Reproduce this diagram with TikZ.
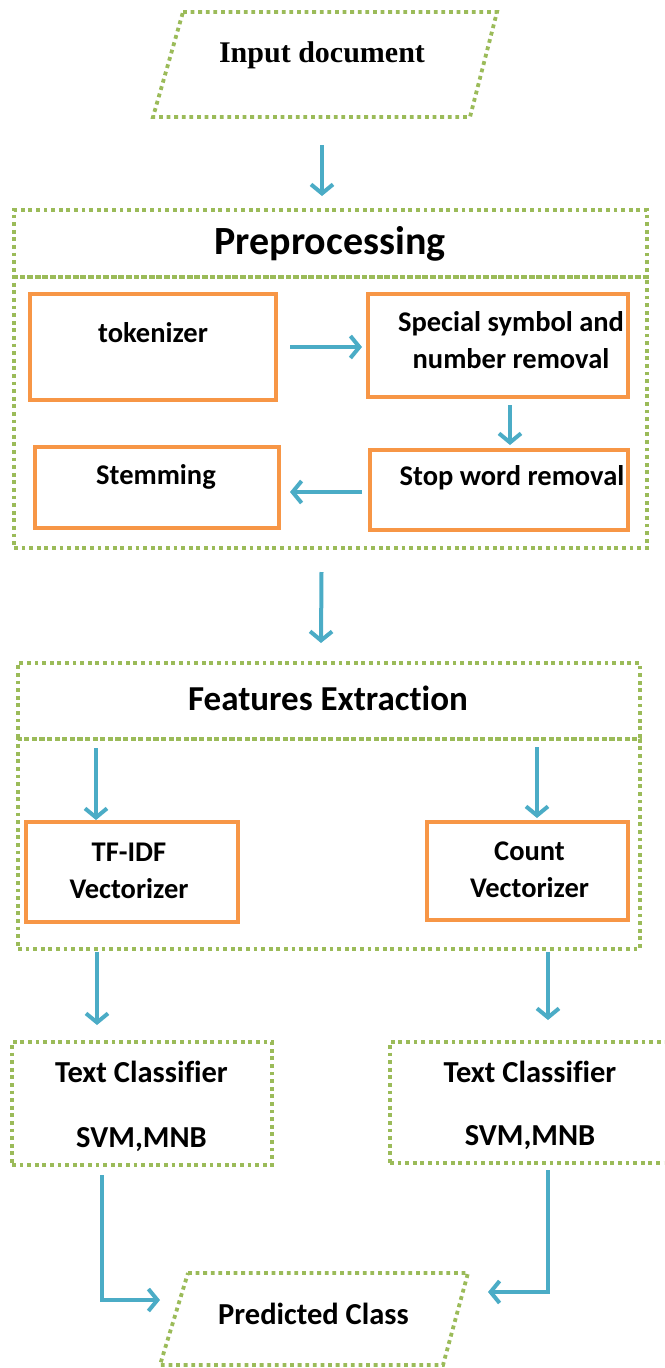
\documentclass[tikz,border=0pt]{standalone}
\usepackage{fontspec}
\setmainfont{Carlito}[Ligatures=NoCommon]
\newfontfamily\titleserif{Liberation Serif}
\usetikzlibrary{arrows.meta,calc}

\definecolor{dotgreen}{HTML}{9BBB59}
\definecolor{boxorange}{HTML}{F79646}
\definecolor{flowblue}{HTML}{4BACC6}

\begin{document}
\begin{tikzpicture}[x=1pt,y=-1pt,
  dotline/.style={draw=dotgreen, line width=3.8pt, dash pattern=on 3.8pt off 3.8pt},
  dotbox/.style={dotline, rectangle, inner sep=0pt, outer sep=0pt},
  obox/.style={draw=boxorange, line width=4.2pt, rectangle, inner sep=0pt, outer sep=0pt},
  lbl/.style={font=\fontsize{28.5}{37}\selectfont\bfseries, align=center, inner sep=0pt},
  big/.style={font=\fontsize{30.5}{37}\selectfont\bfseries, align=center, inner sep=0pt},
  head/.style={font=\fontsize{#1}{#1}\selectfont\bfseries, inner sep=0pt},
  arr/.style={draw=flowblue, line width=4pt, -{Straight Barb[length=9pt,width=22pt]}},
]
\clip (0,0) rectangle (664,1368);

% input document
\coordinate (inA) at (183,12);
\coordinate (inB) at (497,12);
\coordinate (inC) at (470,117);
\coordinate (inD) at (153,117);
\draw[dotline] (inA) -- (inB) -- (inC) -- (inD) -- cycle;
\node[font=\titleserif\fontsize{30}{30}\selectfont\bfseries, inner sep=0pt] (inTxt) at (322,55) {Input document};

% preprocessing block
\node[dotbox, minimum width=633pt, minimum height=67pt] (preHead) at (330.5,243.5) {};
\node[dotbox, minimum width=633pt, minimum height=271pt] (preBody) at (330.5,412.5) {};
\node[head=40] (preTitle) at (330,244) {Preprocessing};

\node[obox, minimum width=246pt, minimum height=106pt] (tok) at (153,347) {};
\node[lbl] (tokT) at (153,333) {tokenizer};
\node[obox, minimum width=260pt, minimum height=103pt] (spec) at (498,345.5) {};
\node[lbl] (specT) at (511,340) {Special symbol and\\number removal};
\node[obox, minimum width=258pt, minimum height=80pt] (stop) at (499,490) {};
\node[lbl] (stopT) at (512,478) {Stop word removal};
\node[obox, minimum width=244pt, minimum height=81pt] (stem) at (157,487.5) {};
\node[lbl] (stemT) at (156,477) {Stemming};

% feature extraction block
\node[dotbox, minimum width=622pt, minimum height=76pt] (featHead) at (329,701) {};
\node[dotbox, minimum width=622pt, minimum height=210pt] (featBody) at (329,844) {};
\node[head=35] (featTitle) at (328,698) {Features Extraction};

\node[obox, minimum width=212pt, minimum height=100pt] (tfidf) at (132,872) {};
\node[lbl] (tfidfT) at (129,871) {TF-IDF\\Vectorizer};
\node[obox, minimum width=201pt, minimum height=98pt] (count) at (527.5,871) {};
\node[lbl] (countT) at (529.5,870) {Count\\Vectorizer};

% classifiers
\node[dotbox, minimum width=260pt, minimum height=123pt] (tc1) at (142,1103.5) {};
\node[big] (tc1a) at (141.5,1072) {Text Classifier};
\node[big] (tc1b) at (141.5,1140) {SVM,MNB};
\node[dotbox, minimum width=280pt, minimum height=121pt] (tc2) at (530,1102.5) {};
\node[big] (tc2a) at (530,1072) {Text Classifier};
\node[big] (tc2b) at (530,1138) {SVM,MNB};

% predicted class
\coordinate (pA) at (188,1273);
\coordinate (pB) at (468,1273);
\coordinate (pC) at (443,1365);
\coordinate (pD) at (160,1365);
\draw[dotline] (pA) -- (pB) -- (pC) -- (pD) -- cycle;
\node[big] (predT) at (313.5,1314) {Predicted Class};

% connectors
\draw[arr] ($(inTxt.center |- inC)+(0,28)$) -- ($(inTxt.center |- preHead.north)+(0,-14)$);
\draw[arr] ($(tok.east)+(14,0)$) -- ($(spec.west |- tok.east)+(-6,0)$);
\draw[arr] ($(spec.south)+(12,8)$) -- ($(stop.north)+(11,-5)$);
\draw[arr] ($(stop.west)+(-8,2)$) -- ($(stem.east |- stop.west)+(11,2)$);
\draw[arr] ($(preBody.south)+(-9,24)$) -- ($(featHead.north)+(-8,-20)$);
\draw[arr] ($(featBody.north -| tfidf.west)+(70,9)$) -- ($(tfidf.north -| tfidf.west)+(70,-2)$);
\draw[arr] ($(featBody.north -| count.west)+(110,8)$) -- ($(count.north -| count.west)+(110,-4)$);
\draw[arr] ($(featBody.south -| tc1.west)+(85,3)$) -- ($(tc1.north -| tc1.west)+(85,-17)$);
\draw[arr] ($(featBody.south -| tc2.west)+(158,3)$) -- ($(tc2.north -| tc2.west)+(158,-22)$);
\draw[arr] ($(tc1.south -| tc1.west)+(90,10)$) |- ($(pD)+(0,-65)$);
\draw[arr] ($(tc2.south -| tc2.west)+(158,7)$) |- ($(pB)+(20,19)$);
\end{tikzpicture}
\end{document}
